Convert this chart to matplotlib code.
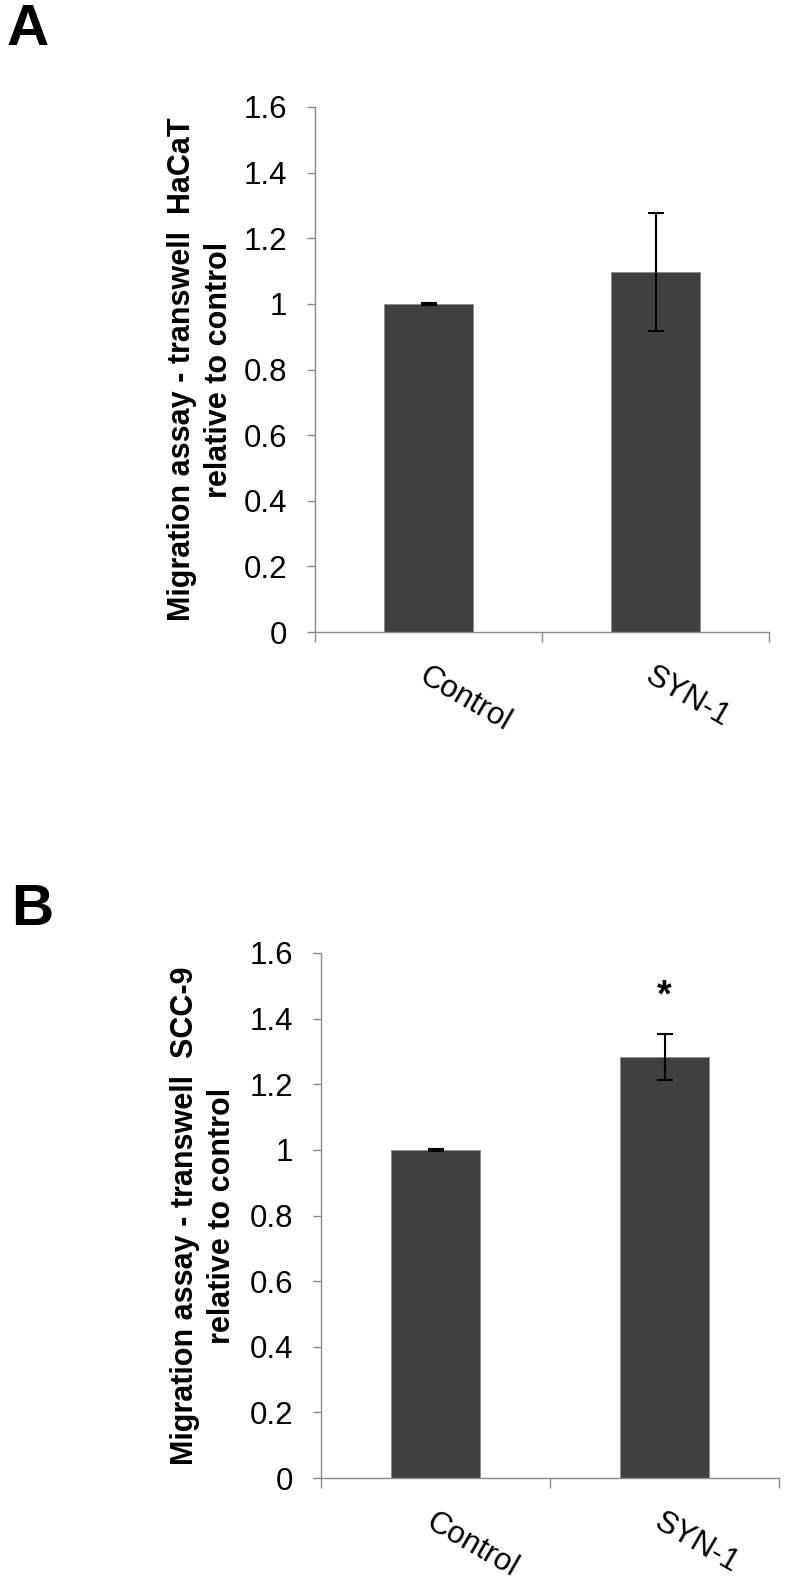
import matplotlib
matplotlib.use("Agg")
import matplotlib.pyplot as plt

plt.rcParams['font.family'] = ['Liberation Sans', 'DejaVu Sans']

categories = ["Control", "SYN-1"]
values_a = [1.0, 1.097]
errors_a = [0.003, 0.18]
values_b = [1.0, 1.283]
errors_b = [0.003, 0.07]
yticks = [0, 0.2, 0.4, 0.6, 0.8, 1.0, 1.2, 1.4, 1.6]
ytick_labels = ["0", "0.2", "0.4", "0.6", "0.8", "1", "1.2", "1.4", "1.6"]
ylabel_a = "Migration assay - transwell  HaCaT\nrelative to control"
ylabel_b = "Migration assay - transwell  SCC-9\nrelative to control"
sig_marks_b = ["", "*"]

W, H = 789, 1586
fig = plt.figure(figsize=(W / 100, H / 100), dpi=100)

GRAY = "#8c8c8c"
BAR = "#404040"


def px_axes(l, r, t, b):
    return fig.add_axes([l / W, 1 - b / H, (r - l) / W, (b - t) / H])


def setup(ax, vals, errs, ylabel, ylabel_x):
    xs = list(range(len(categories)))
    ax.bar(xs, vals, width=0.39, color=BAR, edgecolor=GRAY, linewidth=0.6, zorder=2)
    ax.errorbar(xs, vals, yerr=errs, fmt='none', ecolor='black', elinewidth=1.5,
                capsize=6, capthick=1.5, zorder=3)
    ax.set_xlim(-0.5, len(categories) - 0.5)
    ax.set_ylim(0, 1.6)
    ax.set_yticks(yticks)
    ax.set_yticklabels(ytick_labels, fontsize=22.5)
    ax.tick_params(axis='y', length=6, width=1, color=GRAY, pad=14)
    ax.set_xticks([i - 0.5 for i in range(len(categories) + 1)])
    ax.set_xticklabels([])
    ax.tick_params(axis='x', which='major', length=7, width=1, color=GRAY, direction='out')
    ax.set_xticks(xs, minor=True)
    ax.set_xticklabels(categories, minor=True, fontsize=22.5, rotation=-30,
                       ha='left', va='top', rotation_mode='anchor')
    ax.tick_params(axis='x', which='minor', length=0, pad=21)
    for s in ['top', 'right']:
        ax.spines[s].set_visible(False)
    for s in ['left', 'bottom']:
        ax.spines[s].set_color(GRAY)
        ax.spines[s].set_linewidth(1)
    ax.set_ylabel(ylabel, fontsize=22, fontweight='bold', linespacing=1.3)
    ax.yaxis.set_label_coords(ylabel_x, 0.5)


ax_a = px_axes(315, 769, 107, 632)
setup(ax_a, values_a, errors_a, ylabel_a, -0.178)

ax_b = px_axes(321, 779, 953, 1478)
setup(ax_b, values_b, errors_b, ylabel_b, -0.183)
for i, m in enumerate(sig_marks_b):
    if m:
        ax_b.text(i, values_b[i] + errors_b[i] + 0.085, m, ha='center', va='baseline',
                  fontsize=27, fontweight='bold')

fig.text(7 / W, 1 - 45 / H, "A", fontsize=42, fontweight='bold', ha='left', va='baseline')
fig.text(11 / W, 1 - 925 / H, "B", fontsize=42, fontweight='bold', ha='left', va='baseline')

fig.savefig("out.png", dpi=100, facecolor='white')
